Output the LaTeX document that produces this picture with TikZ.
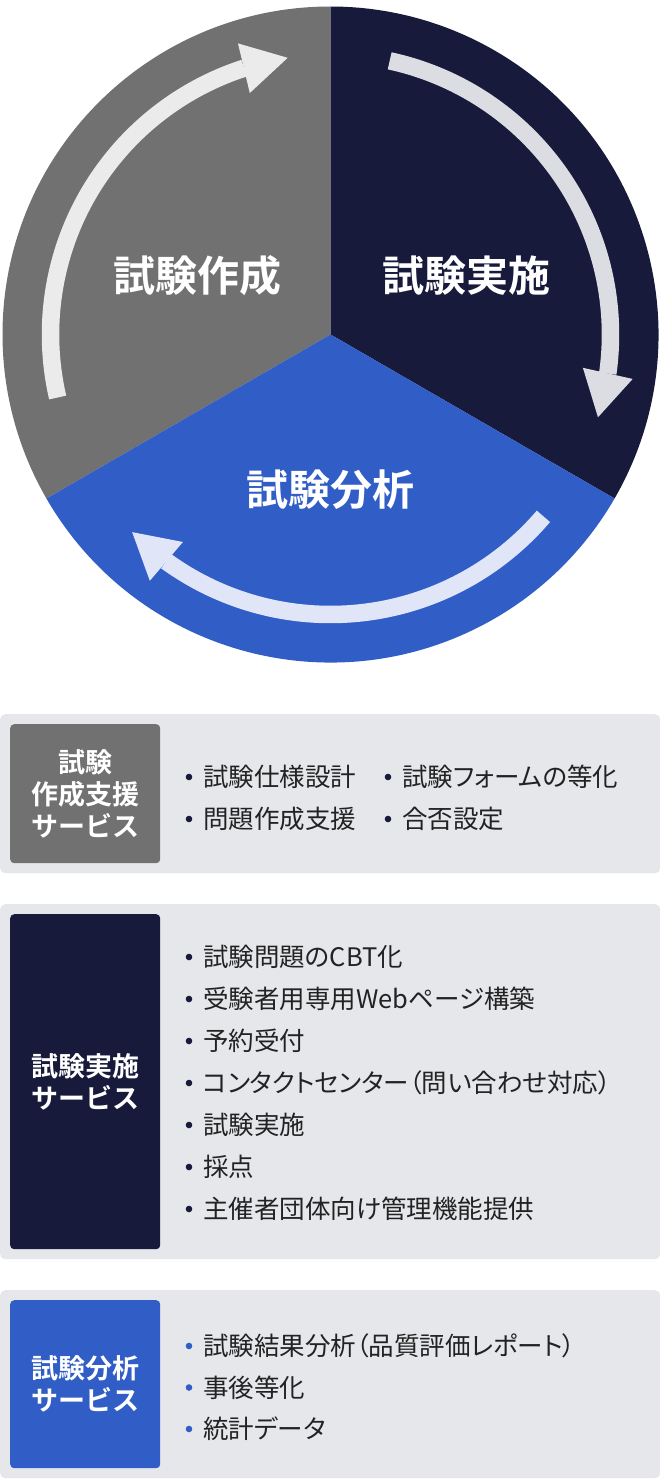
\documentclass[tikz,border=0pt]{standalone}
\usepackage{fontspec}
\setmainfont{Noto Sans CJK JP}[BoldFont={Noto Sans CJK JP Bold}]
\newfontfamily\itemfont{Noto Sans CJK JP}[RawFeature=+palt]
\usetikzlibrary{arrows.meta, bending, positioning}
\definecolor{makegray}{HTML}{717171}
\definecolor{runnavy}{HTML}{181A3B}
\definecolor{evalblue}{HTML}{315EC6}
\definecolor{makearc}{HTML}{EBEBEB}
\definecolor{runarc}{HTML}{DCDDE3}
\definecolor{evalarc}{HTML}{E0E6F7}
\definecolor{panelbg}{HTML}{E6E7EB}
\definecolor{itemtext}{HTML}{222222}
\tikzset{
    cyclearrow/.style={line width=17.5pt, -{Triangle[width=51pt,length=45pt,line width=0pt]}},
    seclabel/.style={text=white, inner sep=0pt, font=\fontsize{42}{50}\selectfont\bfseries},
    panel/.style={rectangle, rounded corners=5pt, fill=panelbg, anchor=north west, minimum width=660pt},
    tagbox/.style={rectangle, rounded corners=4pt, anchor=north west, minimum width=150pt, text=white, align=center, font=\fontsize{27}{32}\selectfont\bfseries},
    item/.style={anchor=west, inner sep=0pt, text=itemtext, font=\itemfont\fontsize{25.5}{30}\selectfont, text height=22.5pt, text depth=3pt},
}

\begin{document}
\begin{tikzpicture}[x=1pt, y=1pt]
\useasboundingbox (0,0) rectangle (660,-1480);
\fill[white] (0,0) rectangle (660,-1480);

% cycle wheel
\coordinate (hub) at (330.5,-334.5);
\fill[makegray] (hub) -- ++(90:328) arc[start angle=90, end angle=210, radius=328] -- cycle;
\fill[runnavy] (hub) -- ++(-30:328) arc[start angle=-30, end angle=90, radius=328] -- cycle;
\fill[evalblue] (hub) -- ++(210:328) arc[start angle=210, end angle=330, radius=328] -- cycle;

\draw[cyclearrow, makearc] (hub) ++(193:280) arc[start angle=193, end angle=98.8, radius=280];
\draw[cyclearrow, runarc] (hub) ++(77.8:280) arc[start angle=77.8, end angle=-17.2, radius=280];
\draw[cyclearrow, evalarc] (hub) ++(-40.5:280) arc[start angle=-40.5, end angle=-135.1, radius=280];

\node[seclabel] (make) at (197,-276) {試験作成};
\node[seclabel] (run) at (466,-276) {試験実施};
\node[seclabel] (eval) at (330,-490) {試験分析};

% service panels
\node[panel, minimum height=159pt] (makepanel) at (0,-714) {};
\node[tagbox, fill=makegray, minimum height=139pt] (maketag) at (10,-724) {試験\\作成支援\\サービス};
\node[item] (spec) at (203,-777) {試験仕様設計};
\node[item] (item) at (203,-819) {問題作成支援};
\node[item] (equate) at (402,-777) {試験フォームの等化};
\node[item] (pass) at (402,-819) {合否設定};
\foreach \n in {spec, item, equate, pass}
  \fill[runnavy] ([xshift=-14pt]\n.west) circle (3.3pt);

\node[panel, minimum height=355pt] (runpanel) at (0,-904) {};
\node[tagbox, fill=runnavy, minimum height=335pt] (runtag) at (10,-914) {試験実施\\サービス};
\foreach \txt [count=\i] in {試験問題のCBT化, 受験者用専用Webページ構築, 予約受付, コンタクトセンター（問い合わせ対応）, 試験実施, 採点, 主催者団体向け管理機能提供} {
  \node[item] (run\i) at (203,{-957-42*(\i-1)}) {\txt};
  \fill[runnavy] ([xshift=-14pt]run\i.west) circle (3.3pt);
}

\node[panel, minimum height=188pt] (evalpanel) at (0,-1290) {};
\node[tagbox, fill=evalblue, minimum height=168pt] (evaltag) at (10,-1300) {試験分析\\サービス};
\foreach \txt [count=\i] in {試験結果分析（品質評価レポート）, 事後等化, 統計データ} {
  \node[item] (eval\i) at (203,{-1346-41.5*(\i-1)}) {\txt};
  \fill[evalblue] ([xshift=-14pt]eval\i.west) circle (3.3pt);
}
\end{tikzpicture}
\end{document}
